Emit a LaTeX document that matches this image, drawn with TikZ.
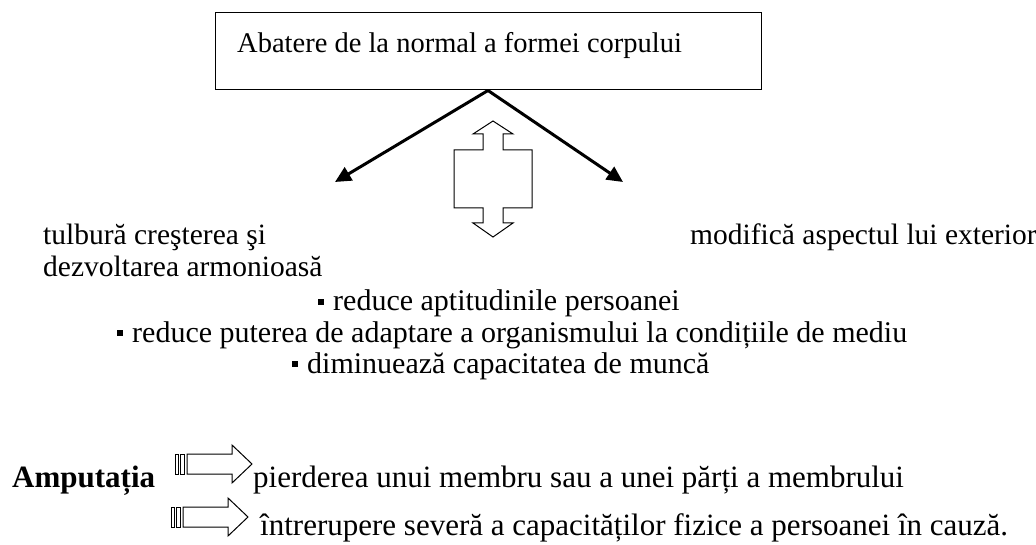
\documentclass[tikz,border=0pt]{standalone}
\usepackage{fontspec}
\setmainfont{Liberation Serif}
\usetikzlibrary{arrows.meta,positioning}

\newcommand{\sqbullet}{\raisebox{0.2em}{\rule{0.2em}{0.2em}}\hspace{0.3em}}

\begin{document}
\begin{tikzpicture}[
  x=1pt, y=-1pt,
  txt/.style={font=\fontsize{29.5}{32}\selectfont, inner sep=0pt, anchor=base west},
  big/.style={font=\fontsize{31}{34}\selectfont, inner sep=0pt, anchor=base west},
  box/.style={draw, line width=1pt, minimum width=546pt, minimum height=77pt, inner sep=0pt},
  thickarr/.style={-{Triangle[length=16pt,width=15pt]}, line width=3pt},
  blockarr/.style={draw, line width=1pt, fill=white, line join=miter},
]
\useasboundingbox (0,0) rectangle (1036,545);

% Box on top
\node[box] (abatere) at (488,51.5) {};
\node[txt, font=\fontsize{28.5}{32}\selectfont] (abatereTxt) at (237,53)
  {Abatere de la normal a formei corpului};

% Two branches
\coordinate (leftTip) at (335,182);
\coordinate (rightTip) at (623,182);
\draw[thickarr] (abatere.south) -- (leftTip);
\draw[thickarr] (abatere.south) -- (rightTip);

% Double arrow
\draw[blockarr] (493,121) -- (513,134) -- (503,134) -- (503,150) -- (532,150)
  -- (532,208) -- (503,208) -- (503,223) -- (513,223) -- (493,237)
  -- (473,223) -- (483,223) -- (483,208) -- (454,208) -- (454,150)
  -- (483,150) -- (483,134) -- (473,134) -- cycle;

% Branch texts
\node[txt] (tulbura) at (43,245) {tulbură creşterea şi};
\node[txt] (dezvoltarea) at (43,277) {dezvoltarea armonioasă};
\node[txt] (modifica) at (690,245) {modifică aspectul lui exterior};

% Consequences
\node[txt, font=\fontsize{30}{32}\selectfont] (aptitudini) at (318,311)
  {\sqbullet reduce aptitudinile persoanei};
\node[txt, font=\fontsize{30}{32}\selectfont] (adaptare) at (117,342)
  {\sqbullet reduce puterea de adaptare a organismului la condițiile de mediu};
\node[txt, font=\fontsize{30}{32}\selectfont] (munca) at (292,373)
  {\sqbullet diminuează capacitatea de muncă};

% Amputation
\node[big, font=\fontsize{31}{34}\selectfont\bfseries] (amputatia) at (12,487) {Amputația};
\draw[blockarr] (175,454) rectangle (178,474);
\draw[blockarr] (180,454) rectangle (184,474);
\draw[blockarr] (187,454) -- (232,454) -- (232,445) -- (252,464) -- (232,483)
  -- (232,474) -- (187,474) -- cycle;
\draw[blockarr] (171,507) rectangle (174,527);
\draw[blockarr] (176,507) rectangle (180,527);
\draw[blockarr] (183,507) -- (228,507) -- (228,498) -- (248,517) -- (228,536)
  -- (228,527) -- (183,527) -- cycle;
\node[big] (pierderea) at (253,487) {pierderea unui membru sau a unei părți a membrului};
\node[big] (intrerupere) at (260,535) {întrerupere severă a capacităților fizice a persoanei în cauză.};
\end{tikzpicture}
\end{document}
